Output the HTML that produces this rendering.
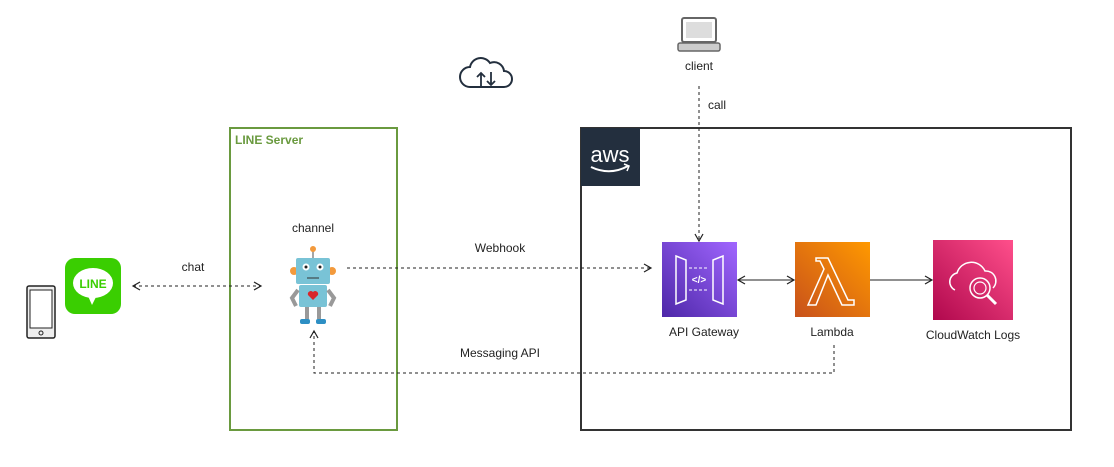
<!DOCTYPE html>
<html><head><meta charset="utf-8"><style>
body{margin:0;background:#fff;}
svg{display:block;font-family:"Liberation Sans",sans-serif;}
</style></head><body>
<svg width="1114" height="467" viewBox="0 0 1114 467" xmlns="http://www.w3.org/2000/svg">
<defs>
<marker id="oa" markerWidth="10" markerHeight="10" refX="8" refY="5" orient="auto-start-reverse" markerUnits="userSpaceOnUse"><path d="M1,1 L8,5 L1,9" fill="none" stroke="#222" stroke-width="1.2"/></marker>
<linearGradient id="gp" x1="0" y1="1" x2="1" y2="0"><stop offset="0" stop-color="#4d27a8"/><stop offset="1" stop-color="#a166ff"/></linearGradient>
<linearGradient id="go" x1="0" y1="1" x2="1" y2="0"><stop offset="0" stop-color="#c8511b"/><stop offset="1" stop-color="#ff9900"/></linearGradient>
<linearGradient id="gr" x1="0" y1="1" x2="1" y2="0"><stop offset="0" stop-color="#b0084d"/><stop offset="1" stop-color="#ff4f8b"/></linearGradient>
</defs>
<rect x="230" y="128" width="167" height="302" fill="none" stroke="#6a9a3f" stroke-width="2"/>
<text x="235" y="144" font-size="12" font-weight="bold" fill="#6a9a3f">LINE Server</text>
<rect x="581" y="128" width="490" height="302" fill="none" stroke="#333" stroke-width="2"/>
<rect x="581" y="128" width="59" height="58" fill="#232f3e"/>
<text x="610" y="162" font-size="22" fill="#fff" text-anchor="middle">aws</text>
<path d="M591,167 Q610,176 628,166" fill="none" stroke="#fff" stroke-width="2"/>
<path d="M624,164 L629,166 L627,171" fill="none" stroke="#fff" stroke-width="1.5"/>
<path d="M470,87 h34 a8,8 0 0 0 0,-16 a10,10 0 0 0 -14,-8 a11,11 0 0 0 -20,4 a10,10 0 0 0 0,20z" fill="none" stroke="#232f3e" stroke-width="2"/>
<path d="M481,86 v-13 M477,77 l4,-4 4,4 M491,72 v13 M487,81 l4,4 4,-4" fill="none" stroke="#232f3e" stroke-width="1.8"/>
<rect x="682" y="18" width="34" height="24" rx="2" fill="#fff" stroke="#666" stroke-width="2"/>
<rect x="686" y="22" width="26" height="16" fill="#ddd"/>
<rect x="678" y="43" width="42" height="8" rx="2" fill="#ccc" stroke="#666" stroke-width="1.5"/>
<text x="699" y="70" font-size="12" text-anchor="middle" fill="#222">client</text>
<rect x="27" y="286" width="28" height="52" rx="2" fill="#eee" stroke="#222" stroke-width="1.5"/>
<rect x="30" y="290" width="22" height="38" fill="#fff" stroke="#222"/>
<circle cx="41" cy="333" r="2" fill="none" stroke="#222"/>
<rect x="65" y="258" width="56" height="56" rx="10" fill="#3ace01"/>
<ellipse cx="93" cy="283" rx="20" ry="15" fill="#fff"/>
<path d="M88,296 l4,9 4,-8z" fill="#fff"/>
<text x="93" y="288" font-size="12" font-weight="bold" fill="#3ace01" text-anchor="middle">LINE</text>
<text x="313" y="232" font-size="12" text-anchor="middle" fill="#222">channel</text>
<line x1="313" y1="250" x2="313" y2="258" stroke="#888" stroke-width="1.5"/>
<circle cx="313" cy="249" r="3" fill="#f39a3c"/>
<circle cx="294" cy="271" r="4" fill="#f39a3c"/><circle cx="332" cy="271" r="4" fill="#f39a3c"/>
<rect x="296" y="258" width="34" height="26" rx="2" fill="#79c3d6"/>
<circle cx="306" cy="267" r="3.5" fill="#fff"/><circle cx="320" cy="267" r="3.5" fill="#fff"/>
<circle cx="306" cy="267" r="1.5" fill="#222"/><circle cx="320" cy="267" r="1.5" fill="#222"/>
<line x1="307" y1="278" x2="319" y2="278" stroke="#333"/>
<rect x="299" y="285" width="28" height="22" rx="2" fill="#79c3d6"/>
<path d="M298,290 l-6,8 4,8" fill="none" stroke="#999" stroke-width="4"/>
<path d="M328,290 l6,8 -4,8" fill="none" stroke="#999" stroke-width="4"/>
<path d="M313,300 l-5,-5 a3,3 0 0 1 5,-3 a3,3 0 0 1 5,3z" fill="#d8262c"/>
<rect x="305" y="307" width="4" height="12" fill="#999"/><rect x="317" y="307" width="4" height="12" fill="#999"/>
<rect x="300" y="319" width="10" height="5" rx="2" fill="#2d8fc4"/><rect x="316" y="319" width="10" height="5" rx="2" fill="#2d8fc4"/>
<rect x="662" y="242" width="75" height="75" fill="url(#gp)"/>
<path d="M676,256 l10,4 v40 l-10,4z" fill="none" stroke="#fff" stroke-width="1.5"/>
<path d="M723,256 v48 l-10,-4 v-40z" fill="none" stroke="#fff" stroke-width="1.5"/>
<path d="M689,268 h20 M689,290 h20" stroke="#fff" stroke-dasharray="3,2"/>
<text x="699" y="283" font-size="10" fill="#fff" text-anchor="middle" font-weight="bold">&lt;/&gt;</text>
<text x="704" y="336" font-size="12" text-anchor="middle" fill="#222">API Gateway</text>
<rect x="795" y="242" width="75" height="75" fill="url(#go)"/>
<path d="M816,258 h12 l20,42 h6 v5 h-12 l-14,-30 -12,30 h-8 l16,-36 -4,-8 h-4z" fill="none" stroke="#fff" stroke-width="1.5"/>
<text x="832" y="336" font-size="12" text-anchor="middle" fill="#222">Lambda</text>
<rect x="933" y="240" width="80" height="80" fill="url(#gr)"/>
<path d="M955,290 a9,9 0 0 1 2,-17 a15,15 0 0 1 28,-2 a10,10 0 0 1 8,17" fill="none" stroke="#fff" stroke-width="1.5"/>
<circle cx="980" cy="288" r="10" fill="none" stroke="#fff" stroke-width="1.5"/>
<circle cx="980" cy="288" r="6" fill="none" stroke="#fff" stroke-width="1.2"/>
<line x1="987" y1="295" x2="996" y2="304" stroke="#fff" stroke-width="3"/>
<text x="973" y="339" font-size="12" text-anchor="middle" fill="#222">CloudWatch Logs</text>
<g stroke="#222" stroke-width="1" fill="none">
<line x1="133" y1="286" x2="261" y2="286" stroke-dasharray="3,3" marker-start="url(#oa)" marker-end="url(#oa)"/>
<line x1="347" y1="268" x2="651" y2="268" stroke-dasharray="3,3" marker-end="url(#oa)"/>
<line x1="699" y1="86" x2="699" y2="241" stroke-dasharray="3,3" marker-end="url(#oa)"/>
<line x1="738" y1="280" x2="794" y2="280" marker-start="url(#oa)" marker-end="url(#oa)"/>
<line x1="870" y1="280" x2="932" y2="280" marker-end="url(#oa)"/>
<polyline points="834,345 834,373 314,373 314,331" stroke-dasharray="3,3" marker-end="url(#oa)"/>
</g>
<text x="193" y="271" font-size="12" text-anchor="middle" fill="#222">chat</text>
<text x="500" y="252" font-size="12" text-anchor="middle" fill="#222">Webhook</text>
<text x="717" y="109" font-size="12" text-anchor="middle" fill="#222">call</text>
<text x="500" y="357" font-size="12" text-anchor="middle" fill="#222">Messaging API</text>
</svg>
</body></html>
